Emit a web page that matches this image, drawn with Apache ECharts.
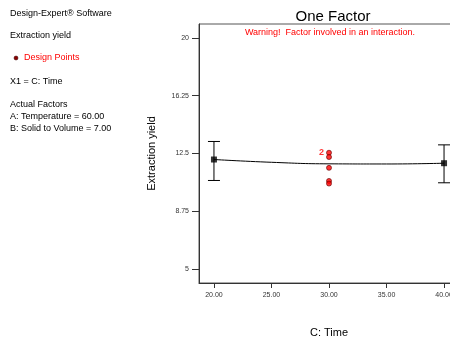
<!DOCTYPE html>
<html><head><meta charset="utf-8">
<script src="https://cdn.jsdelivr.net/npm/echarts@6/dist/echarts.min.js"></script>
<style>html,body{margin:0;padding:0;background:#fff}#c{width:450px;height:340px}</style>
</head><body><div id="c"></div>
<script>
// Data
const yTicks = [5, 8.75, 12.5, 16.25, 20];
const xTicks = [20, 25, 30, 35, 40];
const meanX = [20, 40];
const meanY = [12.11, 11.87];
const errLow = [10.75, 10.6];
const errHigh = [13.28, 13.06];
const curveX = [20, 25, 30, 35, 40];
const curveY = [12.11, 11.93, 11.83, 11.82, 11.87];
const designX = [30, 30, 30, 30, 30];
const designY = [12.55, 12.27, 11.57, 10.72, 10.55];
const designLabel = ['2', '', '', '', ''];

const font = 'Liberation Sans, Arial, sans-serif';
const chart = echarts.init(document.getElementById('c'));
chart.setOption({
  animation: false,
  backgroundColor: '#fff',
  title: {text: 'One Factor', left: 328, textAlign: 'center', top: 4,
    textStyle: {fontFamily: font, fontSize: 15, fontWeight: 'normal', color: '#000'}},
  grid: {left: 199, top: 24, width: 260, height: 259, outerBoundsMode: 'none', containLabel: false,
    show: true, borderColor: '#555', borderWidth: 1},
  xAxis: {type: 'value', min: 18.7, max: 41.3,
    name: 'C: Time', nameLocation: 'middle', nameGap: 44,
    nameTextStyle: {fontFamily: font, fontSize: 11, color: '#000'},
    axisLine: {lineStyle: {color: '#333'}},
    axisTick: {show: true, length: 5, customValues: xTicks, lineStyle: {color: '#333'}},
    axisLabel: {customValues: xTicks, formatter: v => v.toFixed(2), fontFamily: font, fontSize: 7, color: '#333', margin: 9},
    splitLine: {show: false}},
  yAxis: {type: 'value', min: 4.1, max: 20.9,
    name: 'Extraction yield', nameLocation: 'middle', nameGap: 42, nameRotate: 90,
    nameTextStyle: {fontFamily: font, fontSize: 11, color: '#000'},
    axisLine: {show: true, lineStyle: {color: '#333'}},
    axisTick: {show: true, length: 7, customValues: yTicks, lineStyle: {color: '#333'}},
    axisLabel: {customValues: yTicks, formatter: v => String(v), fontFamily: font, fontSize: 7, color: '#333', margin: 10},
    splitLine: {show: false}},
  graphic: [
    {type: 'text', left: 10, top: 9, style: {text: 'Design-Expert® Software', font: '9px ' + font, fill: '#000'}},
    {type: 'text', left: 10, top: 31, style: {text: 'Extraction yield', font: '9px ' + font, fill: '#000'}},
    {type: 'circle', shape: {cx: 16, cy: 58, r: 2}, style: {fill: '#8b0000', stroke: '#300', lineWidth: 0.5}},
    {type: 'text', left: 24, top: 53, style: {text: 'Design Points', font: '9px ' + font, fill: '#ff0000'}},
    {type: 'text', left: 10, top: 77, style: {text: 'X1 = C: Time', font: '9px ' + font, fill: '#000'}},
    {type: 'text', left: 10, top: 100, style: {text: 'Actual Factors', font: '9px ' + font, fill: '#000'}},
    {type: 'text', left: 10, top: 112, style: {text: 'A: Temperature = 60.00', font: '9px ' + font, fill: '#000'}},
    {type: 'text', left: 10, top: 124, style: {text: 'B: Solid to Volume = 7.00', font: '9px ' + font, fill: '#000'}},
    {type: 'text', x: 330, y: 33, style: {text: 'Warning!  Factor involved in an interaction.', font: '9px ' + font, fill: '#ff0000', align: 'center', verticalAlign: 'middle'}}
  ],
  series: [
    {type: 'line', data: curveX.map((x, i) => [x, curveY[i]]), smooth: true, symbol: 'none',
      lineStyle: {color: '#000', width: 1}, z: 2},
    {type: 'custom', data: meanX.map((x, i) => [x, errLow[i], errHigh[i]]), z: 3,
      renderItem: (params, api) => {
        const lo = api.coord([api.value(0), api.value(1)]);
        const hi = api.coord([api.value(0), api.value(2)]);
        const w = 6;
        const st = {stroke: '#000', lineWidth: 1};
        return {type: 'group', children: [
          {type: 'line', shape: {x1: lo[0], y1: lo[1], x2: hi[0], y2: hi[1]}, style: st},
          {type: 'line', shape: {x1: lo[0] - w, y1: lo[1], x2: lo[0] + w, y2: lo[1]}, style: st},
          {type: 'line', shape: {x1: hi[0] - w, y1: hi[1], x2: hi[0] + w, y2: hi[1]}, style: st}
        ]};
      }},
    {type: 'scatter', data: meanX.map((x, i) => [x, meanY[i]]), symbol: 'rect', symbolSize: 6,
      itemStyle: {color: '#000'}, z: 4},
    {type: 'scatter', data: designX.map((x, i) => ({value: [x, designY[i]],
        label: {show: designLabel[i] !== '', formatter: designLabel[i], position: 'left', distance: 2,
          color: '#ff0000', fontFamily: font, fontSize: 9, fontWeight: 'bold'}})),
      symbol: 'circle', symbolSize: 5, itemStyle: {color: '#ff0000', borderColor: '#600', borderWidth: 0.8}, z: 5}
  ]
});
</script></body></html>
